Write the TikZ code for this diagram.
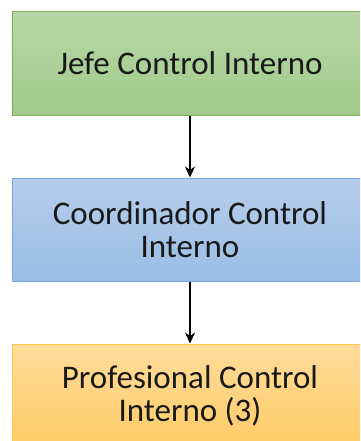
\documentclass[tikz,border=0pt]{standalone}
\usepackage{fontspec}
\setmainfont{Carlito}
\usetikzlibrary{arrows.meta}
\definecolor{gtop}{RGB}{184,214,166}
\definecolor{gbot}{RGB}{160,203,139}
\definecolor{gbrd}{RGB}{122,178,88}
\definecolor{btop}{RGB}{182,205,235}
\definecolor{bbot}{RGB}{154,189,230}
\definecolor{bbrd}{RGB}{118,166,222}
\definecolor{otop}{RGB}{255,220,155}
\definecolor{obot}{RGB}{255,204,102}
\definecolor{obrd}{RGB}{250,200,80}
\tikzset{
  x=1pt,y=-1pt,
  orgbox/.style={minimum width=356pt,minimum height=103pt,inner sep=0pt,
    align=center,line width=1pt,font=\fontsize{33}{33}\selectfont,text=black!90},
  gbox/.style={orgbox,draw=gbrd,top color=gtop,bottom color=gbot},
  bbox/.style={orgbox,draw=bbrd,top color=btop,bottom color=bbot},
  obox/.style={orgbox,draw=obrd,top color=otop,bottom color=obot},
  conn/.style={line width=2pt,-{Stealth[length=11pt,width=10pt]}}
}
\begin{document}
\begin{tikzpicture}
\clip (0,0) rectangle (360,441);
\fill[white] (0,0) rectangle (360,441);
\node[gbox] (jefe) at (190,63.5) {Jefe Control Interno};
\node[bbox] (coord) at (190,229.5) {Coordinador Control\\Interno};
\node[obox] (prof) at (190,395.5) {Profesional Control\\Interno (3)};
\draw[conn] (jefe.south) -- (coord.north);
\draw[conn] (coord.south) -- (prof.north);
\end{tikzpicture}
\end{document}
